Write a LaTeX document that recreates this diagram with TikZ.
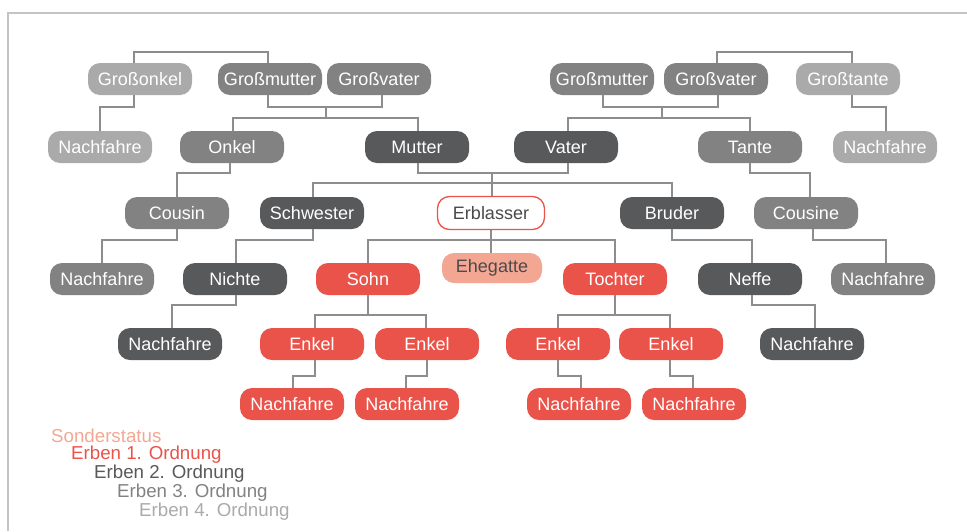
\documentclass[tikz,border=0pt]{standalone}
\usepackage{fontspec}
\setmainfont{Liberation Sans}
\definecolor{redA}{HTML}{E9534A}
\definecolor{salmon}{HTML}{F3A793}
\definecolor{grayB}{HTML}{58595B}
\definecolor{grayC}{HTML}{828282}
\definecolor{grayD}{HTML}{AAAAAA}
\definecolor{linkc}{HTML}{8D8D8D}
\definecolor{framec}{HTML}{C4C4C4}
\definecolor{textdark}{HTML}{4A4A4A}
\newcommand\boxfont{\fontsize{18}{18}\selectfont}
\newcommand\legfont{\fontsize{18.7}{18.7}\selectfont}
\tikzset{
  box/.style={rounded corners=12pt, minimum width=104pt, minimum height=32pt, inner sep=0pt, text=white, font=\boxfont},
  ordA/.style={box, fill=redA},
  ordB/.style={box, fill=grayB},
  ordC/.style={box, fill=grayC},
  ordD/.style={box, fill=grayD},
  special/.style={box, fill=salmon, text=textdark, minimum width=100pt, minimum height=30pt},
  deceased/.style={box, fill=white, draw=redA, line width=1.3pt, text=textdark, minimum width=107pt, minimum height=33pt},
  link/.style={draw=linkc, line width=2.6pt},
  frameline/.style={draw=framec, line width=1.6pt},
  legend/.style={anchor=west, inner sep=0pt, font=\legfont}
}
\begin{document}
\begin{tikzpicture}[x=1pt, y=-1pt]
\useasboundingbox (0,0) rectangle (967,531);
\draw[frameline] (8,531) -- (8,13) -- (967,13);

% row 1
\node[ordD] (gonkel) at (140,79) {Großonkel};
\node[ordC] (gmL) at (270,79) {Großmutter};
\node[ordC] (gvL) at (379,79) {Großvater};
\node[ordC] (gmR) at (602,79) {Großmutter};
\node[ordC] (gvR) at (716,79) {Großvater};
\node[ordD] (gtante) at (848,79) {Großtante};
% row 2
\node[ordD] (nfA) at (100,147) {Nachfahre};
\node[ordC] (onkel) at (232,147) {Onkel};
\node[ordB] (mutter) at (417,147) {Mutter};
\node[ordB] (vater) at (566,147) {Vater};
\node[ordC] (tante) at (750,147) {Tante};
\node[ordD] (nfB) at (885,147) {Nachfahre};
% row 3
\node[ordC] (cousin) at (177,213) {Cousin};
\node[ordB] (schwester) at (312,213) {Schwester};
\node[deceased] (erbl) at (491,213) {Erblasser};
\node[ordB] (bruder) at (672,213) {Bruder};
\node[ordC] (cousine) at (806,213) {Cousine};
% row 4
\node[ordC] (nfC) at (102,279) {Nachfahre};
\node[ordB] (nichte) at (235,279) {Nichte};
\node[ordA] (sohn) at (368,279) {Sohn};
\node[special] (ehe) at (492,268) {Ehegatte};
\node[ordA] (tochter) at (615,279) {Tochter};
\node[ordB] (neffe) at (750,279) {Neffe};
\node[ordC] (nfD) at (883,279) {Nachfahre};
% row 5
\node[ordB] (nfE) at (170,344) {Nachfahre};
\node[ordA] (enkA) at (312,344) {Enkel};
\node[ordA] (enkB) at (427,344) {Enkel};
\node[ordA] (enkC) at (558,344) {Enkel};
\node[ordA] (enkD) at (671,344) {Enkel};
\node[ordB] (nfF) at (812,344) {Nachfahre};
% row 6
\node[ordA] (nfG) at (292,404) {Nachfahre};
\node[ordA] (nfH) at (407,404) {Nachfahre};
\node[ordA] (nfI) at (579,404) {Nachfahre};
\node[ordA] (nfJ) at (694,404) {Nachfahre};

% junction coordinates
\coordinate (jL1) at (326,107);
\coordinate (jL2) at (326,118);
\coordinate (jR1) at (662,107);
\coordinate (jR2) at (662,118);
\coordinate (jM1) at (492,173);
\coordinate (jM2) at (492,183);

% connectors, top
\draw[link] (134,0 |- gonkel.north) -- (134,52) -| (268,0 |- gmL.north);
\draw[link] (134,0 |- gonkel.south) -- (134,107) -| (nfA.north);
\draw[link] (268,0 |- gmL.south) -- (268,107) -| (382,0 |- gvL.south);
\draw[link] (jL1) -- (jL2);
\draw[link] (233,0 |- onkel.north) -- (233,118) -| (418,0 |- mutter.north);
\draw[link] (603,0 |- gmR.south) -- (603,107) -| (718,0 |- gvR.south);
\draw[link] (jR1) -- (jR2);
\draw[link] (568,0 |- vater.north) -- (568,118) -| (750,0 |- tante.north);
\draw[link] (717,0 |- gvR.north) -- (717,52) -| (852,0 |- gtante.north);
\draw[link] (852,0 |- gtante.south) -- (852,107) -| (886,0 |- nfB.north);
% middle
\draw[link] (230,0 |- onkel.south) -- (230,173) -| (177,0 |- cousin.north);
\draw[link] (418,0 |- mutter.south) -- (418,173) -| (568,0 |- vater.south);
\draw[link] (jM1) -- (jM2);
\draw[link] (313,0 |- schwester.north) -- (313,183) -| (672,0 |- bruder.north);
\draw[link] (jM2) -- (492,0 |- erbl.north);
\draw[link] (750,0 |- tante.south) -- (750,173) -| (810,0 |- cousine.north);
% row 3 -> row 4
\draw[link] (177,0 |- cousin.south) -- (177,240) -| (102,0 |- nfC.north);
\draw[link] (313,0 |- schwester.south) -- (313,240) -| (236,0 |- nichte.north);
\draw[link] (491,0 |- erbl.south) -- (491,0 |- ehe.north);
\draw[link] (368,0 |- sohn.north) -- (368,240) -| (615,0 |- tochter.north);
\draw[link] (672,0 |- bruder.south) -- (672,240) -| (752,0 |- neffe.north);
\draw[link] (813,0 |- cousine.south) -- (813,240) -| (886,0 |- nfD.north);
% row 4 -> row 5
\draw[link] (236,0 |- nichte.south) -- (236,305) -| (172,0 |- nfE.north);
\draw[link] (368,0 |- sohn.south) -- (368,315);
\draw[link] (315,0 |- enkA.north) -- (315,315) -| (426,0 |- enkB.north);
\draw[link] (615,0 |- tochter.south) -- (615,315);
\draw[link] (558,0 |- enkC.north) -- (558,315) -| (670,0 |- enkD.north);
\draw[link] (752,0 |- neffe.south) -- (752,305) -| (815,0 |- nfF.north);
% row 5 -> row 6
\draw[link] (315,0 |- enkA.south) -- (315,376) -| (293,0 |- nfG.north);
\draw[link] (427,0 |- enkB.south) -- (427,376) -| (406,0 |- nfH.north);
\draw[link] (558,0 |- enkC.south) -- (558,376) -| (581,0 |- nfI.north);
\draw[link] (670,0 |- enkD.south) -- (670,376) -| (693,0 |- nfJ.north);

% legend
\node[legend, text=salmon] (legS) at (51,436) {Sonderstatus};
\node[legend, text=redA] (leg1) at (71,455) {Erben 1. Ordnung};
\node[legend, text=grayB] (leg2) at (94,474) {Erben 2. Ordnung};
\node[legend, text=grayC] (leg3) at (117,493) {Erben 3. Ordnung};
\node[legend, text=grayD] (leg4) at (139,512) {Erben 4. Ordnung};
\end{tikzpicture}
\end{document}
